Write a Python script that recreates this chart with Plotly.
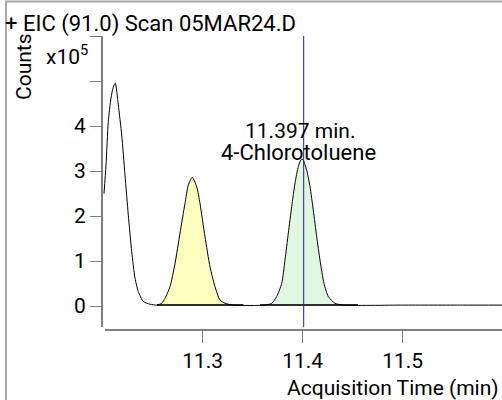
import plotly.graph_objects as go

# ---- data ----
time_min = [11.2013, 11.2033, 11.2056, 11.2083, 11.2106, 11.2126, 11.2156, 11.2190,
            11.2223, 11.2256, 11.2290, 11.2323, 11.2356, 11.2406, 11.2473, 11.2540,
            11.2590, 11.2623, 11.2673, 11.2723, 11.2773, 11.2823, 11.2856, 11.2896,
            11.2940, 11.2973, 11.3023, 11.3073, 11.3123, 11.3173, 11.3223, 11.3303,
            11.3623, 11.3690, 11.3740, 11.3790, 11.3823, 11.3856, 11.3890, 11.3923,
            11.3956, 11.3980, 11.3993, 11.4006, 11.4040, 11.4073, 11.4106, 11.4140,
            11.4173, 11.4213, 11.4256, 11.4323, 11.4406, 11.5000, 11.5600, 11.6000]
counts_e5 = [2.50, 3.13, 4.10, 4.62, 4.87, 4.95, 4.47, 3.80,
             2.91, 2.02, 1.21, 0.62, 0.32, 0.10, 0.04, 0.02,
             0.06, 0.17, 0.43, 0.94, 1.62, 2.28, 2.69, 2.86,
             2.65, 2.28, 1.54, 0.87, 0.43, 0.13, 0.06, 0.02,
             0.02, 0.06, 0.21, 0.50, 1.02, 1.62, 2.21, 2.73,
             3.10, 3.24, 3.27, 3.24, 3.02, 2.65, 2.13, 1.54,
             1.02, 0.50, 0.21, 0.06, 0.02, 0.02, 0.02, 0.02]

peak_fill_windows = [(11.2540, 11.3303), (11.3623, 11.4406)]
peak_fill_colors = ["#ffffc0", "#e0f8e0"]
integration_baselines = [(11.2543, 11.3407), (11.3573, 11.4553)]
baseline_level = 0.02

marker_time = 11.401
marker_label_lines = ["11.397 min.", "4-Chlorotoluene"]

x_tick_vals = [11.3, 11.4, 11.5]
x_tick_text = ["11.3", "11.4", "11.5"]
y_tick_vals = [0, 1, 2, 3, 4]
y_tick_text = ["0", "1", "2", "3", "4"]
y_unlabeled_ticks = [5, 6]

x_range = [11.1993, 11.5993]
y_range = [-0.5333, 6.0]

title_text = "+ EIC (91.0) Scan 05MAR24.D"
FONT = "Roboto, Tahoma, DejaVu Sans, sans-serif"
FS = 21

# ---- figure ----
W, H = 502, 400
L, R, T, B = 102, 0, 36, 70
PW, PH = W - L - R, H - T - B


def px(x):
    return (x - L) / PW


def py(y):
    return (H - B - y) / PH


fig = go.Figure()

for (t0, t1), col in zip(peak_fill_windows, peak_fill_colors):
    xs = [t for t in time_min if t0 <= t <= t1]
    ys = [c for t, c in zip(time_min, counts_e5) if t0 <= t <= t1]
    fig.add_trace(go.Scatter(x=xs + [xs[-1], xs[0]], y=ys + [baseline_level, baseline_level],
                             mode="lines", fill="toself", fillcolor=col,
                             line=dict(width=0, shape="spline", smoothing=0.6),
                             hoverinfo="skip", showlegend=False))

for t0, t1 in integration_baselines:
    fig.add_trace(go.Scatter(x=[t0, t1], y=[baseline_level, baseline_level], mode="lines",
                             line=dict(color="#303030", width=2), showlegend=False,
                             hoverinfo="skip"))

fig.add_trace(go.Scatter(x=time_min, y=counts_e5, mode="lines",
                         line=dict(color="black", width=1, shape="spline", smoothing=0.6),
                         showlegend=False))

fig.add_trace(go.Scatter(x=[marker_time, marker_time], y=[y_range[0] + 0.06, y_range[1]],
                         mode="lines", line=dict(color="#1c1cb4", width=1),
                         showlegend=False, hoverinfo="skip"))

fig.update_layout(
    width=W, height=H,
    margin=dict(l=L, r=R, t=T, b=B, pad=0),
    paper_bgcolor="white", plot_bgcolor="white",
    font=dict(family=FONT, size=FS, color="black"),
    xaxis=dict(range=x_range, showline=False, showgrid=False, zeroline=False,
               tickvals=x_tick_vals, ticktext=x_tick_text,
               ticks="outside", ticklen=12, tickcolor="#808080", tickwidth=1,
               tickfont=dict(family=FONT, size=FS)),
    yaxis=dict(range=y_range, showline=False, showgrid=False, zeroline=False,
               tickvals=y_tick_vals, ticktext=y_tick_text,
               ticks="outside", ticklen=11, tickcolor="#808080", tickwidth=1,
               tickfont=dict(family=FONT, size=FS),
               minor=dict(tickvals=y_unlabeled_ticks, ticks="outside", ticklen=11,
                          tickcolor="#808080", tickwidth=1, showgrid=False)),
    shapes=[
        # axis lines (x axis starts slightly right of the y axis, as in the reference)
        dict(type="line", xref="paper", yref="paper", x0=px(105), x1=px(502),
             y0=0, y1=0, line=dict(color="black", width=1)),
        dict(type="line", xref="paper", yref="paper", x0=0, x1=0,
             y0=py(327), y1=1, line=dict(color="black", width=1)),
        # outer frame
        dict(type="line", xref="paper", yref="paper", x0=px(5), x1=px(510),
             y0=py(1.5), y1=py(1.5), line=dict(color="#a8a8a8", width=2)),
        dict(type="line", xref="paper", yref="paper", x0=px(6), x1=px(6),
             y0=py(1.5), y1=py(410), line=dict(color="#a8a8a8", width=2)),
    ],
    annotations=[
        dict(text=title_text, xref="paper", yref="paper", x=px(3), y=py(24),
             xanchor="left", yanchor="middle", showarrow=False,
             font=dict(family=FONT, size=22)),
        dict(text="Counts", xref="paper", yref="paper", x=px(24), y=py(67),
             xanchor="center", yanchor="middle", textangle=-90, showarrow=False,
             font=dict(family=FONT, size=FS)),
        dict(text="x10<sup>5</sup>", xref="paper", yref="paper", x=px(44), y=py(55),
             xanchor="left", yanchor="middle", showarrow=False,
             font=dict(family=FONT, size=FS)),
        dict(text="Acquisition Time (min)", xref="paper", yref="paper", x=px(501),
             y=py(388), xanchor="right", yanchor="middle", showarrow=False,
             font=dict(family=FONT, size=FS)),
        dict(text=marker_label_lines[0], xref="paper", yref="paper", x=px(300), y=py(131),
             xanchor="center", yanchor="middle", showarrow=False,
             font=dict(family=FONT, size=FS)),
        dict(text=marker_label_lines[1], xref="paper", yref="paper", x=px(298), y=py(152),
             xanchor="center", yanchor="middle", showarrow=False,
             font=dict(family=FONT, size=22)),
    ],
)

fig.write_html("out.html",
               config={"displayModeBar": False},
               post_script="document.body.style.margin='0';"
                           "document.body.style.overflow='hidden';")
